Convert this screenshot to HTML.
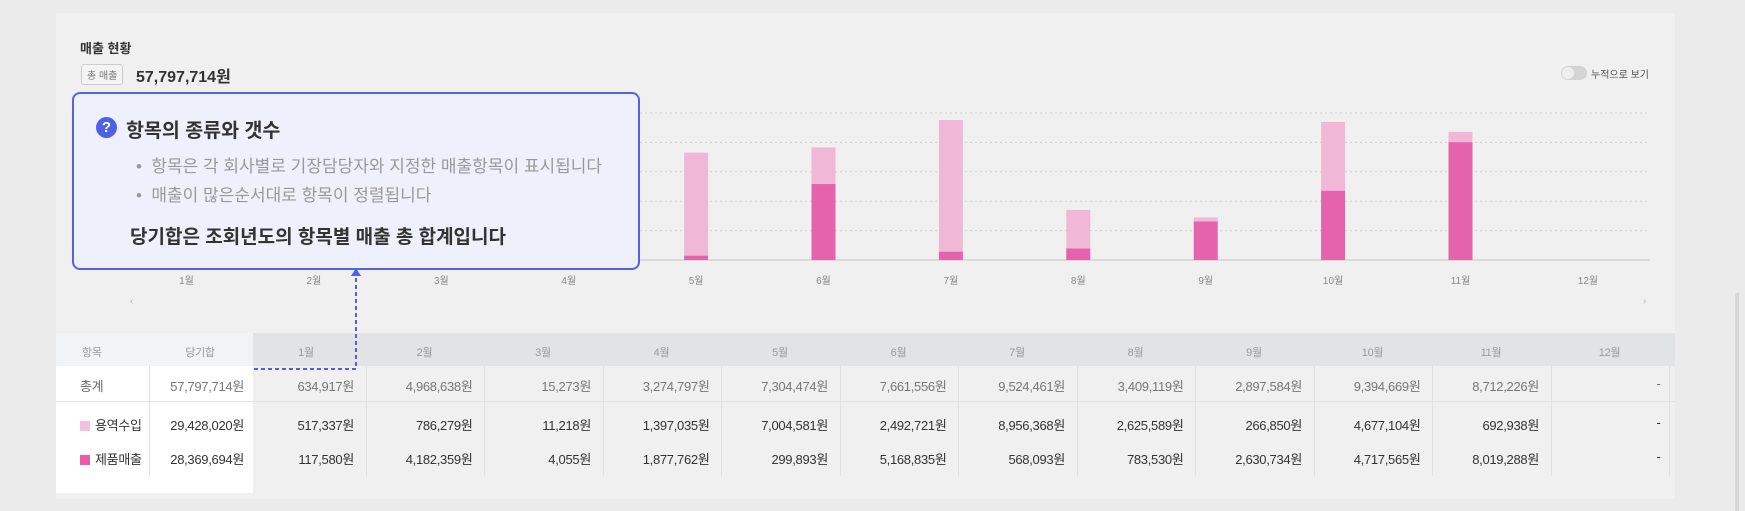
<!DOCTYPE html>
<html><head><meta charset="utf-8">
<style>
body{margin:0;width:1745px;height:511px;background:#ebebeb;font-family:"Liberation Sans","Noto Sans CJK KR",sans-serif;overflow:hidden;position:relative;color:#444}
.card{position:absolute;left:56px;top:13px;width:1619px;height:486px;background:#f0f0f0}
.abs{position:absolute}
.cell{position:absolute;font-size:13px;color:#555;text-align:right;white-space:nowrap;letter-spacing:-0.3px}
</style></head><body>
<div class="card"></div>
<div class="abs" style="left:80px;top:38px;font-size:13px;font-weight:bold;color:#333">매출 현황</div>
<div class="abs" style="left:81px;top:64px;font-size:10px;color:#777;border:1px solid #ccc;border-radius:3px;padding:2px 5px;background:#f4f4f4">총 매출</div>
<div class="abs" style="left:136px;top:63px;font-size:16px;font-weight:bold;color:#333">57,797,714원</div>
<div class="abs" style="left:1561px;top:66px;width:26px;height:14px;border-radius:7px;background:#d4d4d4"><div style="position:absolute;left:1px;top:1px;width:12px;height:12px;border-radius:6px;background:#eee"></div></div>
<div class="abs" style="left:1591px;top:66px;font-size:10px;color:#555">누적으로 보기</div>
<svg class="abs" style="left:0;top:0" width="1745" height="511">
<g id="grid"></g><g id="bars"></g><g id="xl"></g>
<text x="130" y="304" font-size="10" fill="#bbb">‹</text>
<text x="1643" y="304" font-size="10" fill="#bbb">›</text>
</svg>
<div class="abs" style="left:56px;top:333px;width:197px;height:160px;background:#fff"></div>
<div class="abs" style="left:253px;top:333px;width:1422px;height:33px;background:#e2e3e4"></div>
<div class="abs" style="left:56px;top:333px;width:197px;height:33px;background:#f2f3f4"></div>
<div id="table"></div>
<div class="abs" style="left:72px;top:92px;width:564px;height:174px;border:2px solid #5563e0;border-radius:8px;background:#eef0fc">
 <div class="abs" style="left:22px;top:23px;width:21px;height:21px;border-radius:11px;background:#5060e6;color:#fff;font-size:15px;font-weight:bold;text-align:center;line-height:21px">?</div>
 <div class="abs" style="left:52px;top:20px;font-size:19.5px;font-weight:bold;color:#333">항목의 종류와 갯수</div>
 <div class="abs" style="left:62px;top:58px;font-size:17px;color:#999;line-height:29px">•&nbsp; 항목은 각 회사별로 기장담당자와 지정한 매출항목이 표시됩니다<br>•&nbsp; 매출이 많은순서대로 항목이 정렬됩니다</div>
 <div class="abs" style="left:56px;top:128px;font-size:19px;font-weight:bold;color:#333">당기합은 조회년도의 항목별 매출 총 합계입니다</div>
</div>
<svg class="abs" style="left:0;top:0" width="1745" height="511">
<polygon points="356,268 351,276 361,276" fill="#5060e6"/>
<path d="M356 278 V369 H254" stroke="#5060e6" stroke-width="2" stroke-dasharray="4,3" fill="none"/>
</svg>
<script>
const months=['1월','2월','3월','4월','5월','6월','7월','8월','9월','10월','11월','12월'];
const service=[517337,786279,11218,1397035,7004581,2492721,8956368,2625589,266850,4677104,692938,null];
const product=[117580,4182359,4055,1877762,299893,5168835,568093,783530,2630734,4717565,8019288,null];
const totals=[634917,4968638,15273,3274797,7304474,7661556,9524461,3409119,2897584,9394669,8712226,null];
const gridTicks=[0,2000000,4000000,6000000,8000000,10000000];
const NS='http://www.w3.org/2000/svg';
const bw=127.4,base=260,ppm=14.7/1e6;
const xC=i=>186.5+i*bw;
const yS=v=>base-v*ppm;
function mk(t,a,p){const e=document.createElementNS(NS,t);for(const k in a)e.setAttribute(k,a[k]);p.appendChild(e);return e;}
const g=document.getElementById('grid'),b=document.getElementById('bars'),xl=document.getElementById('xl');
gridTicks.forEach(v=>{const l=mk('line',{x1:120,x2:1650,y1:yS(v),y2:yS(v),stroke:v?'#d0d0d0':'#c4c4c4','stroke-dasharray':v?'2,3':'0'},g);

});
months.forEach((m,i)=>{
 const t=mk('text',{x:xC(i),y:284,'font-size':10,fill:'#888','text-anchor':'middle'},xl);t.textContent=m;
 
 
 if(product[i]==null)return;
 const p=mk('rect',{x:xC(i)-12,y:yS(product[i]),width:24,height:product[i]*ppm,fill:'#e563ad'},b);
 
 
 const s=mk('rect',{x:xC(i)-12,y:yS(product[i]+service[i]),width:24,height:service[i]*ppm,fill:'#f0b8d6'},b);
 
 
});
const T=document.getElementById('table');
function cell(txt,x,y,w,align,color,name,fs){const d=document.createElement('div');d.className='cell';d.style.left=x+'px';d.style.top=y+'px';d.style.width=w+'px';d.style.textAlign=align;if(color)d.style.color=color;if(fs)d.style.fontSize=fs+'px';d.innerHTML=txt;


T.appendChild(d);}
const fmt=v=>v==null?'-':v.toLocaleString('en-US')+'원';
cell('항목',82,344,40,'left','#999','header-item',11);cell('당기합',160,344,80,'center','#999','header-sum',11);
months.forEach((m,i)=>cell(m,253+i*118.5,344,106,'center','#999','header-month',11));
const rows=[['총계',57797714,totals,null],['용역수입',29428020,service,'#f6bfdc'],['제품매출',28369694,product,'#ec5aa8']];
rows.forEach((r,j)=>{const y=[376,415,449][j];
 cell((r[3]?'<span style="display:inline-block;width:10px;height:10px;background:'+r[3]+';margin-right:5px;vertical-align:-1px"></span>':'')+r[0],80,y,90,'left',r[3]?'#333':'#666','row-label');
 cell(fmt(r[1]),140,y,104,'right',j?'#333':'#777','row-sum');
 r[2].forEach((v,i)=>cell(fmt(v),253+i*118.5-10,y,v==null?114:111,'right',j?'#333':'#777','row-value'));
 if(j<1){const l=document.createElement('div');l.className='abs';l.style.cssText='left:56px;top:401px;width:1619px;height:1px;background:#e4e4e4';T.appendChild(l);}
});
for(let i=0;i<13;i++){const l=document.createElement('div');l.className='abs';l.style.cssText='left:'+(i==0?149:253+i*118.5-6)+'px;top:366px;width:1px;height:110px;background:#e2e2e2';T.appendChild(l);}
</script>
<div class="abs" style="left:1735px;top:293px;width:4px;height:218px;background:#d8d8d8"></div>
</body></html>
